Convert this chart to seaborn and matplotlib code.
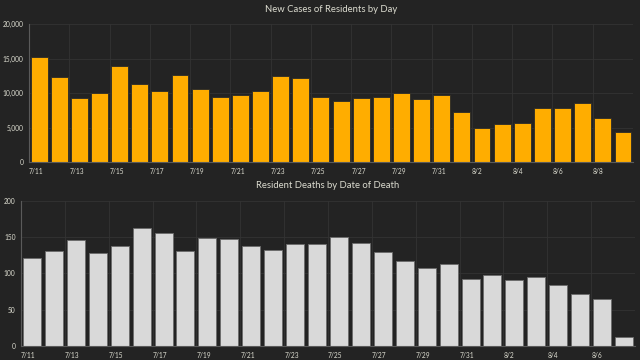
import matplotlib
matplotlib.use("Agg")
import matplotlib.pyplot as plt
import seaborn as sns
import pandas as pd

case_dates = ["7/11","7/12","7/13","7/14","7/15","7/16","7/17","7/18","7/19","7/20",
              "7/21","7/22","7/23","7/24","7/25","7/26","7/27","7/28","7/29","7/30",
              "7/31","8/1","8/2","8/3","8/4","8/5","8/6","8/7","8/8","8/9"]
case_values = [15250, 12300, 9250, 10070, 13850, 11330, 10270, 12540, 10560, 9390,
               9780, 10270, 12450, 12150, 9350, 8910, 9300, 9490, 10020, 9100,
               9690, 7220, 4990, 5520, 5620, 7800, 7800, 8620, 6340, 4310]

death_dates = ["7/11","7/12","7/13","7/14","7/15","7/16","7/17","7/18","7/19","7/20",
               "7/21","7/22","7/23","7/24","7/25","7/26","7/27","7/28","7/29","7/30",
               "7/31","8/1","8/2","8/3","8/4","8/5","8/6","8/7"]
death_values = [122, 131, 146, 128, 138, 163, 156, 131, 149, 148,
                138, 133, 141, 141, 150, 142, 130, 117, 107, 113,
                92, 98, 91, 95, 84, 72, 65, 12]

case_yticks = [0, 5000, 10000, 15000, 20000]
case_yticklabels = ["0", "5,000", "10,000", "15,000", "20,000"]
death_yticks = [0, 50, 100, 150, 200]

BG = "#232323"
TXT = "#dcdcd0"
GRID = "#333333"
SPINE = "#5a5a5a"

sns.set_theme(style="dark")
plt.rcParams['font.family'] = ['Lato', 'DejaVu Sans']

fig = plt.figure(figsize=(6.4, 3.6), dpi=100, facecolor=BG)

def style_axis(ax, dates, yticks, yticklabels, ymax, title, pad):
    n = len(dates)
    ax.set_facecolor(BG)
    ax.set_xlim(-0.5, n - 0.5)
    ax.set_ylim(0, ymax)
    pos = [i - 0.5 for i in range(0, n, 2)]
    ax.set_xticks(pos)
    ax.set_xticklabels([dates[i] for i in range(0, n, 2)], ha="left")
    ax.set_yticks(yticks)
    ax.set_yticklabels(yticklabels)
    ax.tick_params(axis="x", colors=TXT, labelsize=4.8, length=3, width=0.6,
                   color=SPINE, pad=1.5)
    ax.tick_params(axis="y", colors=TXT, labelsize=4.8, length=2.5, width=0.6,
                   color=SPINE, pad=1.5)
    ax.grid(True, color=GRID, linewidth=0.6)
    ax.set_axisbelow(True)
    for s in ["top", "right"]:
        ax.spines[s].set_visible(False)
    for s in ["left", "bottom"]:
        ax.spines[s].set_visible(True)
        ax.spines[s].set_color(SPINE)
        ax.spines[s].set_linewidth(0.8)
    ax.set_xlabel("")
    ax.set_ylabel("")
    ax.set_title(title, color=TXT, fontsize=6.8, pad=pad)

ax1 = fig.add_axes([0.0453, 0.55, 0.9438, 0.3833])
df1 = pd.DataFrame({"date": case_dates, "value": case_values})
sns.barplot(data=df1, x="date", y="value", order=case_dates, color="#ffad00",
            saturation=1, width=0.84, edgecolor="#2a2a2a", linewidth=0.6, ax=ax1)
style_axis(ax1, case_dates, case_yticks, case_yticklabels, 20000,
           "New Cases of Residents by Day", 9)

ax2 = fig.add_axes([0.0328, 0.0389, 0.9594, 0.4028])
df2 = pd.DataFrame({"date": death_dates, "value": death_values})
sns.barplot(data=df2, x="date", y="value", order=death_dates, color="#d9d9d9",
            saturation=1, width=0.82, edgecolor="#6a6a6a", linewidth=0.6, ax=ax2)
style_axis(ax2, death_dates, death_yticks, [str(v) for v in death_yticks], 200,
           "Resident Deaths by Date of Death", 9.5)

fig.savefig("out.png", dpi=100, facecolor=BG)
